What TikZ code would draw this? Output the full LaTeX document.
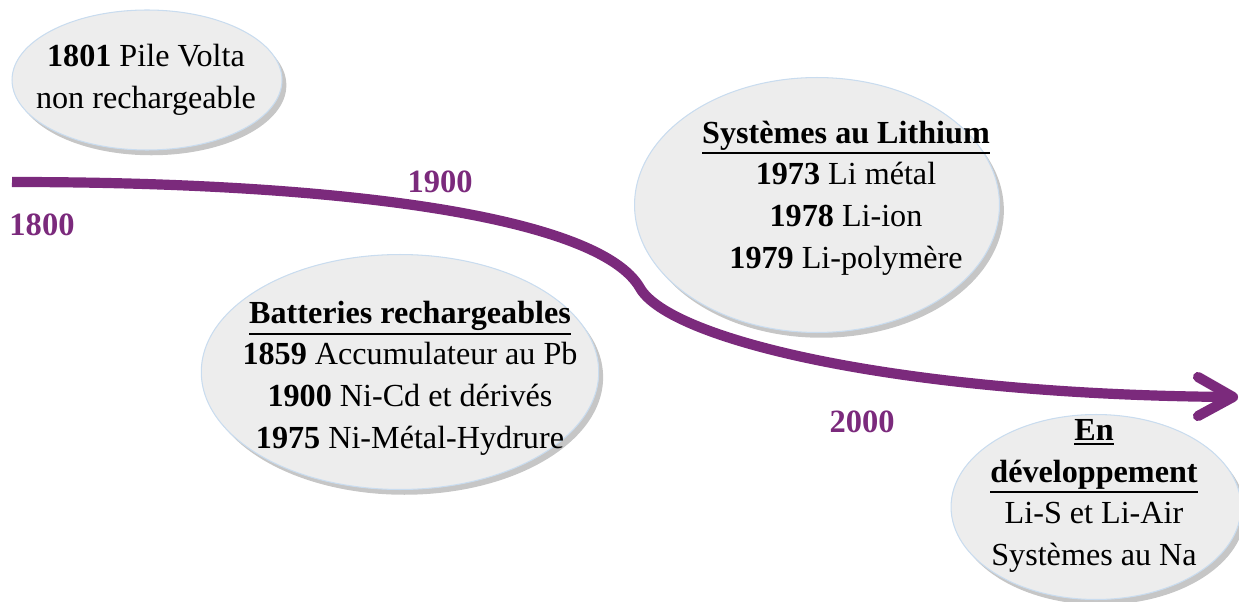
\documentclass[tikz,border=0pt]{standalone}
\usepackage{fontspec}
\setmainfont{Liberation Serif}
\usetikzlibrary{shapes.geometric,shadows}
\definecolor{timeline}{HTML}{7B2A7C}
\definecolor{bubblefill}{HTML}{EDEDED}
\definecolor{bubbleedge}{HTML}{C9DCEF}
\newcommand\thul[1]{\leavevmode\vtop{\hbox{#1}\kern1.3pt\hrule height 1.1pt}}
\tikzset{
  bubble/.style={ellipse, draw=bubbleedge, line width=0.6pt, fill=bubblefill, inner sep=0pt,
    drop shadow={opacity=0.45, shadow xshift=2.5pt, shadow yshift=-3pt}},
  bubbletext/.style={align=center, inner sep=0pt, font=\fontsize{18.3}{23.7}\selectfont},
  yearlabel/.style={text=timeline, font=\fontsize{18.5}{23}\selectfont\bfseries, inner sep=0pt},
  timeline line/.style={draw=timeline, line width=5.8pt},
}
\begin{document}
\begin{tikzpicture}[x=0.02cm,y=-0.02cm]
\useasboundingbox (0,0) rectangle (1239,601);
% bubbles
\node[bubble, minimum width=5.4cm, minimum height=2.8cm] (volta) at (147,80) {};
\node[bubble, minimum width=7.3cm, minimum height=5.1cm] (lith) at (817,205) {};
\node[bubble, minimum width=7.95cm, minimum height=4.7cm] (batt) at (400,372) {};
\node[bubble, minimum width=5.8cm, minimum height=3.7cm] (dev) at (1096,507) {};
% texts
\node[bubbletext] (voltat) at (146,80) {\textbf{1801} Pile Volta\\non rechargeable};
\node[bubbletext] (litht) at (846,198) {\thul{\textbf{Systèmes au Lithium}}\\\textbf{1973} Li métal\\\textbf{1978} Li-ion\\\textbf{1979} Li-polymère};
\node[bubbletext] (battt) at (410,378) {\thul{\textbf{Batteries rechargeables}}\\\textbf{1859} Accumulateur au Pb\\\textbf{1900} Ni-Cd et dérivés\\\textbf{1975} Ni-Métal-Hydrure};
\node[bubbletext] (devt) at (1094,496) {\thul{\textbf{En}}\\\thul{\textbf{développement}}\\Li-S et Li-Air\\Systèmes au Na};
% timeline
\coordinate (start) at (12,182);
\coordinate (bend) at (640,288);
\coordinate (tip) at (1233,397);
\coordinate (armup) at (1198,377);
\coordinate (armdown) at (1198,416);
\path[timeline line] (start) .. controls (350,182) and (600,218) .. (bend)
  .. controls (670,340) and (900,395) .. (tip);
\path[timeline line, line cap=round, line join=round] (armup) -- (tip) -- (armdown);
% year labels
\node[yearlabel] (y1800) at (42,225) {1800};
\node[yearlabel] (y1900) at (440,182) {1900};
\node[yearlabel] (y2000) at (862,422) {2000};
\end{tikzpicture}
\end{document}
